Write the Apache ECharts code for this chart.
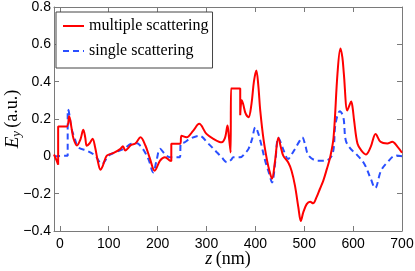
<!DOCTYPE html>
<html>
<head>
<meta charset="utf-8">
<script src="https://cdn.jsdelivr.net/npm/echarts@6/dist/echarts.min.js"></script>
<style>html,body{margin:0;padding:0;background:#fff}#c{width:415px;height:271px}</style>
</head>
<body>
<div id="c"></div>
<script>
var xTicks = [0, 100, 200, 300, 400, 500, 600, 700];
var seriesNames = ['multiple scattering', 'single scattering'];

var multZ = [-12, -7, -3.5, -3.5, 14, 19, 24, 28, 35, 42, 48, 52, 55, 61, 67, 72, 78, 83, 88, 96, 110, 124, 129, 134, 140, 146, 155, 165, 175, 184, 194, 205, 215, 225, 228, 228, 246, 249, 259, 273, 285, 300, 314, 331, 338, 343, 346, 349.5, 350, 369, 369, 372, 375, 380, 386, 392, 397, 402, 406, 410, 417, 424, 429, 434, 440, 447, 452, 457, 467, 474, 481, 488, 493, 498, 505, 512, 518, 525, 532, 539, 546, 553, 560, 568, 574, 578, 581, 588, 592, 596, 599, 602, 609, 617, 626, 636, 646, 656, 670, 680, 691, 700];
var multE = [0.01, -0.02, -0.045, 0.16, 0.16, 0.215, 0.15, 0.094, 0.058, 0.09, 0.142, 0.1, 0.057, 0.07, 0.094, 0.05, -0.03, -0.072, -0.05, 0.004, 0.018, 0.04, 0.054, 0.031, 0.045, 0.061, 0.07, 0.102, 0.058, -0.01, -0.077, -0.023, -0.005, -0.023, -0.025, 0.067, 0.067, 0.11, 0.102, 0.138, 0.174, 0.12, 0.094, 0.075, 0.1, 0.165, 0.1, 0.02, 0.363, 0.363, 0.22, 0.3, 0.28, 0.23, 0.21, 0.28, 0.4, 0.46, 0.38, 0.245, 0.085, -0.023, -0.08, -0.12, -0.03, 0.1, 0.05, 0.004, -0.032, -0.077, -0.157, -0.274, -0.346, -0.3, -0.256, -0.243, -0.252, -0.22, -0.175, -0.13, -0.07, -0.005, 0.102, 0.443, 0.578, 0.53, 0.443, 0.246, 0.27, 0.294, 0.26, 0.192, 0.067, 0.03, 0.01, 0.051, 0.12, 0.078, 0.069, 0.078, 0.051, 0.019];

var singleZ = [-12, 10, 16, 16, 18, 24, 30, 38, 55, 72, 86, 100, 114, 131, 146, 158, 165, 172, 182, 191, 198, 205, 215, 225, 246, 247, 255, 266, 285, 304, 321, 331, 342, 350, 355, 369, 380, 386, 393, 400, 405, 410, 420, 428, 434, 441, 447, 458, 467, 474, 481, 490, 496, 502, 509, 527, 544, 558, 564, 573, 580, 585, 595, 606, 623, 636, 645, 657, 670, 687, 700];
var singleE = [0.0, 0.003, 0.003, 0.25, 0.245, 0.147, 0.1, 0.048, 0.031, 0.004, -0.041, 0.004, 0.022, 0.04, 0.067, 0.07, 0.055, 0.031, -0.02, -0.086, -0.02, 0.04, 0.013, -0.005, -0.005, 0.067, 0.075, 0.094, 0.11, 0.067, 0.022, -0.005, -0.032, -0.02, -0.005, -0.005, 0.02, 0.04, 0.09, 0.156, 0.13, 0.085, -0.023, -0.09, -0.14, -0.023, 0.1, 0.031, -0.014, 0.01, 0.04, 0.08, 0.102, 0.06, 0.004, -0.023, -0.023, 0.013, 0.174, 0.242, 0.21, 0.085, 0.04, 0.013, -0.041, -0.12, -0.17, -0.077, -0.032, 0.004, 0.0];

function pairs(xs, ys) { return xs.map(function (x, i) { return [x, ys[i]]; }); }

var axisGray = '#7a7a7a';
var labelFont = 'Liberation Sans';
var serif = 'Liberation Serif';

var chart = echarts.init(document.getElementById('c'), null, { renderer: 'canvas' });
chart.setOption({
  animation: false,
  backgroundColor: '#fff',
  grid: { left: 54, right: 13, top: 7, bottom: 40, containLabel: false, outerBoundsMode: 'none' },
  legend: {
    data: seriesNames,
    orient: 'vertical',
    left: 56, top: 12,
    padding: [6, 4, 9, 6],
    itemWidth: 21, itemHeight: 14, itemGap: 9,
    borderColor: '#444', borderWidth: 1,
    backgroundColor: '#fff',
    itemStyle: { opacity: 0 },
    textStyle: { fontFamily: serif, fontSize: 16, color: '#000' }
  },
  xAxis: [{
    type: 'value', min: -12, max: 700, position: 'bottom',
    axisLine: { show: true, onZero: false, lineStyle: { color: axisGray, width: 1 } },
    axisTick: { show: true, inside: true, length: 5, customValues: xTicks, lineStyle: { color: axisGray } },
    axisLabel: { customValues: xTicks, fontFamily: labelFont, fontSize: 14, color: '#000', margin: 6 },
    splitLine: { show: false },
    name: '{i|z} {n|(nm)}', nameLocation: 'middle', nameGap: 19, nameMoveOverlap: false,
    nameTextStyle: { rich: {
      i: { fontFamily: serif, fontStyle: 'italic', fontSize: 18, color: '#000' },
      n: { fontFamily: serif, fontSize: 18, color: '#000' } } }
  }, {
    type: 'value', min: -12, max: 700, position: 'top',
    axisLine: { show: true, onZero: false, lineStyle: { color: axisGray, width: 1 } },
    axisTick: { show: true, inside: true, length: 5, customValues: xTicks, lineStyle: { color: axisGray } },
    axisLabel: { show: false }, splitLine: { show: false }
  }],
  yAxis: [{
    type: 'value', min: -0.4, max: 0.8, interval: 0.2, position: 'left',
    axisLine: { show: true, onZero: false, lineStyle: { color: axisGray, width: 1 } },
    axisTick: { show: true, inside: true, length: 5, lineStyle: { color: axisGray } },
    axisLabel: { fontFamily: labelFont, fontSize: 14, color: '#000', margin: 3,
      formatter: function (v) { var s = Math.abs(v) < 1e-9 ? '0' : v.toFixed(1); return s.replace('-', '\u2212'); } },
    splitLine: { show: false },
    name: '{i|E}{s|y} {n|(a.u.)}', nameLocation: 'middle', nameGap: 31, nameRotate: 90, nameMoveOverlap: false,
    nameTextStyle: { rich: {
      i: { fontFamily: serif, fontStyle: 'italic', fontSize: 19, color: '#000' },
      s: { fontFamily: serif, fontStyle: 'italic', fontSize: 13, color: '#000', verticalAlign: 'bottom', padding: [8, 0, 0, 0] },
      n: { fontFamily: serif, fontSize: 18, color: '#000' } } }
  }, {
    type: 'value', min: -0.4, max: 0.8, interval: 0.2, position: 'right',
    axisLine: { show: true, onZero: false, lineStyle: { color: axisGray, width: 1 } },
    axisTick: { show: true, inside: true, length: 5, lineStyle: { color: axisGray } },
    axisLabel: { show: false }, splitLine: { show: false }
  }],
  series: [{
    name: seriesNames[0], type: 'line', xAxisIndex: 0, yAxisIndex: 0,
    data: pairs(multZ, multE), showSymbol: false, symbol: 'none', smooth: 0.35,
    lineStyle: { color: '#ff0000', width: 2 }, itemStyle: { color: '#ff0000' }, z: 3
  }, {
    name: seriesNames[1], type: 'line', xAxisIndex: 0, yAxisIndex: 0,
    data: pairs(singleZ, singleE), showSymbol: false, symbol: 'none', smooth: 0.35,
    lineStyle: { color: '#2a4fff', width: 2, type: [6, 4] }, itemStyle: { color: '#2a4fff' }, z: 2
  }]
});
</script>
</body>
</html>
